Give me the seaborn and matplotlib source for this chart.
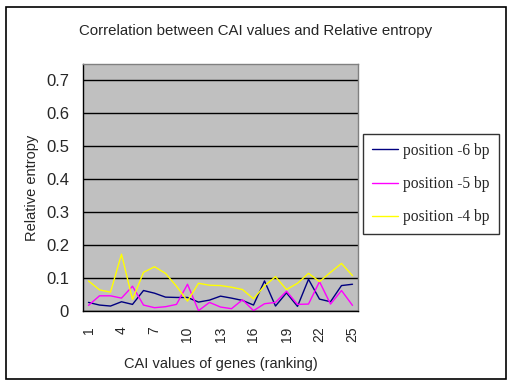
import matplotlib
matplotlib.use("Agg")
import matplotlib.pyplot as plt
import matplotlib.patches as patches
import seaborn as sns
import pandas as pd
import numpy as np

ranks = list(range(1, 26))
pos_m6 = [0.026, 0.018, 0.015, 0.028, 0.020, 0.062, 0.054, 0.042, 0.041, 0.041,
          0.027, 0.033, 0.045, 0.039, 0.032, 0.018, 0.091, 0.015, 0.055, 0.014,
          0.096, 0.036, 0.028, 0.077, 0.081]
pos_m5 = [0.017, 0.046, 0.046, 0.039, 0.075, 0.018, 0.010, 0.013, 0.020, 0.081,
          0.001, 0.026, 0.012, 0.007, 0.034, 0.001, 0.022, 0.026, 0.060, 0.020,
          0.021, 0.089, 0.021, 0.062, 0.017]
pos_m4 = [0.091, 0.064, 0.057, 0.172, 0.035, 0.117, 0.134, 0.114, 0.075, 0.030,
          0.084, 0.078, 0.077, 0.072, 0.065, 0.037, 0.076, 0.104, 0.065, 0.084,
          0.114, 0.089, 0.117, 0.144, 0.107]
series_names = ["position -6 bp", "position -5 bp", "position -4 bp"]
series_colors = ["#000080", "#FF00FF", "#FFFF00"]
yticks = [0, 0.1, 0.2, 0.3, 0.4, 0.5, 0.6, 0.7]
ytick_labels = ["0", "0.1", "0.2", "0.3", "0.4", "0.5", "0.6", "0.7"]
xtick_vals = [1, 4, 7, 10, 13, 16, 19, 22, 25]

df = pd.DataFrame({
    "rank": ranks * 3,
    "value": pos_m6 + pos_m5 + pos_m4,
    "series": [series_names[0]] * 25 + [series_names[1]] * 25 + [series_names[2]] * 25,
})

sns.set_style("white")
plt.rcParams["font.family"] = ["Liberation Sans", "DejaVu Sans"]

fig = plt.figure(figsize=(5.12, 3.84), dpi=100)
ax = fig.add_axes([83/512, 1-311/384, (358-83)/512, (311-64)/384])
ax.set_facecolor("#C0C0C0")

sns.lineplot(data=df, x="rank", y="value", hue="series", hue_order=series_names,
             palette=series_colors, ax=ax, linewidth=1.0, legend=True)

ax.set_xlim(0.5, 25.5)
ax.set_ylim(0, 0.748)
ax.set_yticks(yticks)
ax.set_yticklabels(ytick_labels, fontsize=12)
ax.set_xticks(xtick_vals)
ax.set_xticklabels([str(v) for v in xtick_vals], rotation=90, fontsize=10)
ax.set_xticks(np.arange(1.5, 25, 1.0), minor=True)
ax.tick_params(axis="x", which="major", length=0, pad=11)
ax.tick_params(axis="x", which="minor", direction="in", length=5, width=1, color="black")
ax.tick_params(axis="y", which="major", direction="out", length=4, width=1, color="black", pad=6)

ax.yaxis.grid(True, color="black", linewidth=1.0)
ax.xaxis.grid(False)
ax.set_axisbelow(True)
for s in ["left", "bottom"]:
    ax.spines[s].set_color("black")
    ax.spines[s].set_linewidth(1.0)
for s in ["top", "right"]:
    ax.spines[s].set_color("#808080")
    ax.spines[s].set_linewidth(1.0)

ax.set_xlabel("CAI values of genes (ranking)", fontsize=10.5, labelpad=11)
ax.set_ylabel("Relative entropy", fontsize=10.5, labelpad=5)

fig.text(256/512, 1-31/384, "Correlation between CAI values and Relative entropy",
         ha="center", va="center", fontsize=10.8)

handles, labels = ax.get_legend_handles_labels()
leg = ax.legend(handles, labels, loc="center left",
                bbox_to_anchor=(363/512, 1-184/384), bbox_transform=fig.transFigure,
                borderaxespad=0, frameon=True, fancybox=False, shadow=False,
                prop={"family": "Liberation Serif", "size": 11.2},
                labelspacing=1.1, handlelength=1.7, handletextpad=0.35, borderpad=0.55)
leg.get_frame().set_edgecolor("black")
leg.get_frame().set_linewidth(1.0)
leg.get_frame().set_facecolor("white")
for line in leg.get_lines():
    line.set_linewidth(1.0)

border = patches.Rectangle((5.5/512, 1-379/384), (506-5.5)/512, (379-7)/384,
                           transform=fig.transFigure, fill=False,
                           edgecolor="black", linewidth=1.2)
fig.patches.append(border)

fig.savefig("out.png", dpi=100, facecolor="white")
